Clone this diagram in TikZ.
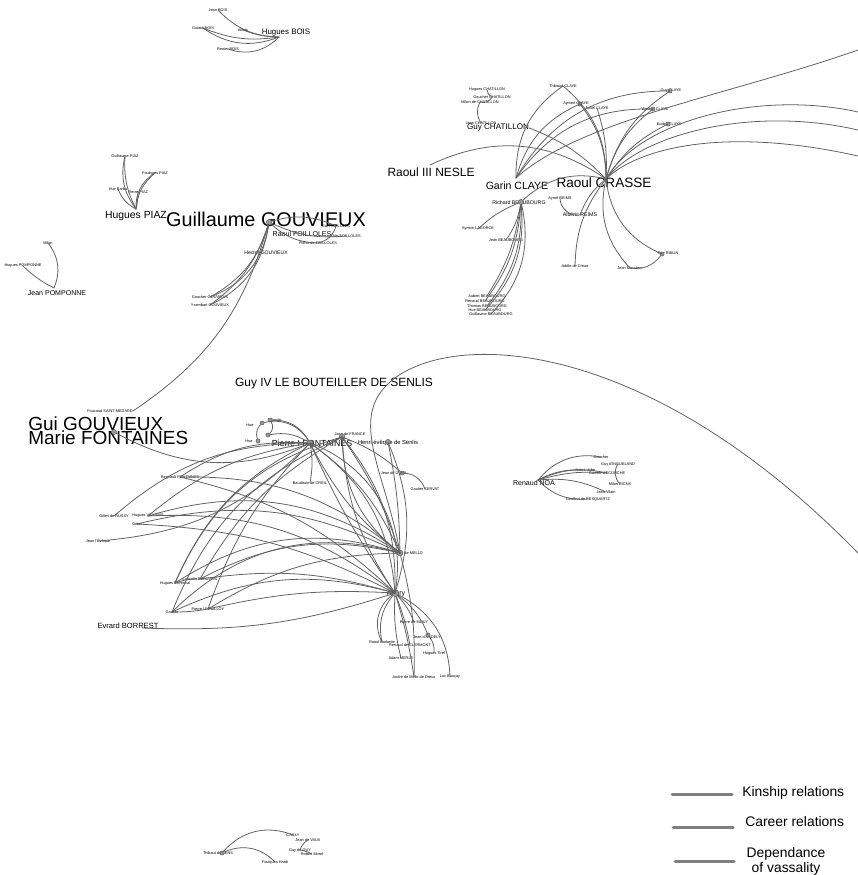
\documentclass[tikz,border=0pt]{standalone}
\usepackage{fontspec}
\setmainfont{Liberation Sans}
\begin{document}
\begin{tikzpicture}[
    x=0.02cm, y=-0.02cm,
    line cap=round, line join=round,
    edge/.style={draw=black!62, line width=0.45pt},
    hub/.style={circle, draw=black!70, fill=black!40, line width=0.2pt, inner sep=0pt, minimum size=#1},
    hub/.default=3pt,
    tiny/.style={font=\fontsize{2.2}{2.4}\selectfont, inner sep=0pt},
    lbl/.style={font=\fontsize{#1}{#1}\selectfont, inner sep=0pt},
    key/.style={draw=black!50, line width=1.7pt}
]

\useasboundingbox (0,0) rectangle (858,875);

% --- Hugues BOIS
\node[lbl=4.5pt] (hbois) at (286,33) {Hugues BOIS};
\coordinate (hboisH) at (279,37);
\node[tiny] (jbois) at (218,10) {Jean BOIS};
\node[tiny] (gbois) at (203,28) {Guiard BOIS};
\node[tiny] (alexis) at (243,30) {Alexis};
\node[tiny] (rbois) at (228,49) {Renier BOIS};
\foreach \n/\b in {jbois/22, gbois/28, gbois/15, alexis/10, rbois/32}
    \draw[edge] (\n.center) to[bend right=\b] (hboisH);

% --- Hugues PIAZ
\node[lbl=5.9pt] (hpiaz) at (136,216) {Hugues PIAZ};
\coordinate (hpiazH) at (136,209);
\node[tiny] (gpiaz) at (125,156) {Guillaume PIAZ};
\node[tiny] (fpiaz) at (155,173) {Foulques PIAZ};
\node[tiny] (huepiaz) at (118,189) {Hue Barbu};
\node[tiny] (ppiaz) at (138,192) {Pierre PIAZ};
\foreach \n/\b in {gpiaz/25, gpiaz/15, huepiaz/20, fpiaz/30, fpiaz/22, ppiaz/-5}
    \draw[edge] (\n.center) to[bend right=\b] (hpiazH);

% --- Jean POMPONNE
\node[lbl=4pt] (jpomp) at (57,293) {Jean POMPONNE};
\coordinate (jpompH) at (54,288);
\node[tiny] (milon) at (48,243) {Milon};
\node[tiny] (hpomp) at (23,266) {Hugues POMPONNE};
\draw[edge] (milon.center) to[bend left=30] (jpompH);
\draw[edge] (hpomp.center) to[bend right=8] (jpompH);

% --- Guillaume GOUVIEUX
\node[lbl=11.3pt] (ggouv) at (266,219) {Guillaume GOUVIEUX};
\node[hub] (ggouvH) at (269,222) {};
\node[lbl=4pt] (rfoil) at (302,234) {Raoul FOILLOLES};
\node[lbl=2.9pt] (hgouv) at (266,253) {Hector GOUVIEUX};
\node[tiny] (foilA) at (336,226) {Gui FOILLOLES};
\node[tiny] (foilB) at (346,236) {Odo FOILLOLES};
\node[tiny] (foilC) at (318,243) {Pierre de FOILLOLES};
\node[tiny] (gaucher) at (210,297) {Gaucher GOUVIEUX};
\node[tiny] (ysemb) at (210,305) {Ysembart GOUVIEUX};
\draw[edge] (ggouvH) to[bend left=20] (foilA.center);
\draw[edge] (ggouvH) to[bend right=15] (foilB.center);
\draw[edge] (ggouvH) to[bend right=20] (foilC.center);
\draw[edge] (foilA.center) to[bend left=30] (foilC.center);
\foreach \n/\b in {gaucher/30, gaucher/22, ysemb/28, ysemb/18}
    \draw[edge] (ggouvH) to[bend left=\b] (\n.center);

% --- Gui GOUVIEUX, Marie FONTAINES
\node[lbl=10.8pt, anchor=base west] (guigouv) at (28,430) {Gui GOUVIEUX};
\node[lbl=10.8pt, anchor=base west] (mfont) at (28,444) {Marie FONTAINES};
\node[tiny] (foucaud) at (110,411) {Foucaud SAINT-MEDARD};
\node[hub] (guiH) at (114,432) {};
\draw[edge] (ggouvH) to[bend left=20] (foucaud.east);

% --- Raoul CRASSE
\node[lbl=6.8pt] (nesle) at (431,172) {Raoul III NESLE};
\coordinate (nesleH) at (430,165);
\node[lbl=4.6pt] (chat) at (498,128) {Guy CHATILLON};
\node[lbl=6pt] (garin) at (517,186) {Garin CLAYE};
\node[lbl=7.7pt] (crasse) at (604,183) {Raoul CRASSE};
\coordinate (garinH) at (516,178);
\coordinate (crasseH) at (606,179);
\node[lbl=3pt] (richard) at (519,203) {Richard BEAUBOURG};
\node[hub] (richardH) at (521,202) {};
\node[lbl=3pt] (alberic) at (580,215) {Albéric REIMS};
\node[tiny] (aymeR) at (560,198) {Aymé REIMS};
\node[tiny] (thib) at (563,86) {Thibaud CLAYE};
\node[tiny] (aym) at (576,104) {Aymeri CLAYE};
\node[hub=2.4pt] (aymH) at (580,104) {};
\node[tiny] (ansel) at (597,108) {Ansel CLAYE};
\node[tiny] (guyc) at (671,91) {Guy CLAYE};
\node[hub=2.4pt] (guycH) at (670,91) {};
\node[tiny] (waut) at (655,109) {Wautier CLAYE};
\node[hub=2.4pt] (wautH) at (653,109) {};
\node[tiny] (eudes) at (669,124) {Eudes CLAYE};
\node[hub=2.4pt] (eudesH) at (668,124) {};
\node[tiny] (chA) at (487,90) {Hugues CHATILLON};
\node[tiny] (chB) at (492,97) {Gaucher CHATILLON};
\node[tiny] (chC) at (480,102) {Milon de CHATILLON};
\node[tiny] (chD) at (481,123) {Jean CHATILLON};
\node[tiny] (symon) at (478,229) {Symon LAGORCE};
\node[tiny] (jeanb) at (506,240) {Jean BEAUBOURG};
\node[tiny] (b1) at (487,296) {Aubert BEAUBOURG};
\node[tiny] (b2) at (485,301) {Renaud BEAUBOURG};
\node[tiny] (b3) at (487,306) {Thomas BEAUBOURG};
\node[tiny] (b4) at (485,310) {Hue BEAUBOURG};
\node[tiny] (b5) at (491,314) {Guillaume BEAUBOURG};
\node[tiny] (adele) at (575,266) {Adèle de Creue};
\node[tiny] (jeanr) at (630,268) {Jean Mauclerc};
\node[tiny] (guyr) at (668,254) {Guy RIBLIN};
\node[hub=2.4pt] (guyrH) at (662,254) {};
\coordinate (oA) at (858,50);
\coordinate (oC) at (858,112);
\coordinate (oD) at (858,130);
\coordinate (oE) at (858,156);

\draw[edge] (chA.center) to[bend right=30] (chB.center);
\draw[edge] (chB.center) to[bend left=40] (chC.center);
\draw[edge] (chC.center) to[bend right=30] (chD.center);
\foreach \n/\b in {thib/28, aymH/25, wautH/28, guycH/30}
    \draw[edge] (garinH) to[bend left=\b] (\n.center);
\foreach \n/\b in {thib/25, aymH/18, ansel/10, guycH/-20, wautH/-18, eudesH/-15}
    \draw[edge] (crasseH) to[bend right=\b] (\n.center);
\draw[edge] (garinH) .. controls (580,120) and (730,95) .. (oA);
\draw[edge] (crasseH) .. controls (640,120) and (760,90) .. (oC);
\draw[edge] (crasseH) .. controls (640,135) and (750,105) .. (oD);
\draw[edge] (crasseH) .. controls (635,150) and (720,125) .. (oE);
\draw[edge] (nesleH) to[bend left=30] (crasseH);
\draw[edge] (chat.east) to[bend left=12] (crasseH);
\draw[edge] (crasseH) to[bend right=28] (richardH);
\foreach \n/\b in {b1/12, b2/16, b3/20, b4/24, b5/28, jeanb/12, symon/-10}
    \draw[edge] (richardH) to[bend left=\b] (\n.center);
\foreach \n/\b in {adele/18, jeanr/28, guyrH/30, alberic/15}
    \draw[edge] (crasseH) to[bend right=\b] (\n.center);
\draw[edge] (guyrH) to[bend left=30] (jeanr.center);
\draw[edge] (aymeR.center) to[bend right=50] (alberic.center);

% --- Renaud NOA
\node[lbl=4pt] (renaud) at (534,483) {Renaud NOA};
\coordinate (renaudH) at (538,480);
\node[tiny] (gaucN) at (601,457) {Gaucher};
\node[tiny] (inguN) at (618,464) {Guy d'INGUELAND};
\node[tiny] (lobN) at (585,470) {Jean Lobbe};
\node[tiny] (ecouN) at (607,473) {Garnier d'ECOUCHE};
\node[tiny] (ricN) at (620,484) {Milon RICNS};
\node[tiny] (jeanN) at (606,492) {Jean Vilain};
\node[tiny] (geofN) at (588,499) {Geoffroi de RESQUARTZ};
\foreach \n/\b in {gaucN/30, lobN/15, ecouN/18, ecouN/10, jeanN/15, geofN/-25}
    \draw[edge] (renaudH) to[bend left=\b] (\n.center);
\draw[edge] (inguN.center) to[bend right=40] (ricN.center);

% --- Pierre I FONTAINES
\node[lbl=6.8pt] (guyIV) at (334,384) {Guy IV LE BOUTEILLER DE SENLIS};
\node[lbl=5pt] (pierre) at (312,443) {Pierre I FONTAINES};
\node[hub=3.4pt] (pierreH) at (310,443) {};
\node[tiny] (jfrance) at (350,434) {Jean de FRANCE};
\node[hub=3.4pt] (franceH) at (342,437) {};
\node[lbl=3.3pt] (henri) at (388,443) {Henri évêque de Senlis};
\node[hub] (henriH) at (388,442) {};
\node[tiny] (hue1) at (250,425) {Hue};
\node[tiny] (baudri) at (276,420) {Baudri};
\node[tiny] (hue2) at (249,441) {Hue};
\node[hub=2.4pt] (sA) at (262,423) {};
\node[hub=2.4pt] (sB) at (270,420) {};
\node[hub=2.4pt] (sC) at (268,435) {};
\node[hub=2.4pt] (sD) at (258,441) {};
\node[tiny] (dulf) at (394,473) {Jean de DUEIL};
\node[hub=2.4pt] (dulfH) at (402,473) {};
\node[tiny] (servat) at (425,489) {Gautier SERVAT};
\node[tiny] (dreux) at (408,553) {Dreux de MELLO};
\node[hub=3.4pt] (dreuxH) at (400,553) {};
\node[lbl=4pt] (aubry) at (396,594) {Aubry};
\node[hub=4pt] (aubryH) at (395,593) {};
\node[tiny] (reg) at (180,477) {Regnault FONTAINES};
\node[tiny] (baud) at (310,483) {Baudouin de CREIL};
\node[tiny] (gil) at (114,516) {Gilles de RUSSY};
\node[tiny] (hvill) at (148,516) {Hugues VILLIERS};
\node[tiny] (odon) at (137,524) {Odon};
\node[tiny] (jeanl) at (98,541) {Jean l'Évêque};
\node[tiny] (hmor) at (175,583) {Hugues Morenval};
\node[tiny] (lanc) at (200,579) {Lancelin BEAUVAIS};
\node[tiny] (gaut) at (172,612) {Gautier};
\node[tiny] (pierII) at (208,609) {Pierre I FOUILLOY};
\node[lbl=4.3pt] (evrard) at (128,626) {Evrard BORREST};
\coordinate (evrardH) at (142,628);
\node[tiny] (pB1) at (414,622) {Pierre de MOUY};
\node[tiny] (jB) at (427,637) {Jean d'ANDELY};
\node[hub=2.4pt] (jBH) at (428,635) {};
\node[tiny] (rB) at (382,642) {Raoul Barbette};
\node[tiny] (reB) at (410,645) {Renaud de CLERMONT};
\node[tiny] (huB) at (434,653) {Hugues Tirel};
\node[tiny] (adB) at (401,658) {Adam MERLE};
\node[tiny] (anB) at (414,677) {André de Mello de Dreux};
\node[tiny] (luB) at (450,677) {Luc Bauçay};
\coordinate (offR) at (858,553);

\draw[edge] (guiH) to[bend right=25] (pierreH);
\foreach \n/\b in {sA/35, sB/30, sC/20}
    \draw[edge] (pierreH) to[bend right=\b] (\n);
\draw[edge] (sA) to[bend right=30] (sD);
\draw[edge] (sB) to[bend left=40] (sC);
\foreach \a/\z/\b in {
    pierreH/dreuxH/15, pierreH/dreuxH/-12, pierreH/aubryH/25, pierreH/aubryH/-5,
    pierreH/aubryH/40, franceH/dreuxH/8, franceH/dreuxH/-25, franceH/aubryH/-15,
    franceH/aubryH/20, reg/dreuxH/20, reg/aubryH/15, hvill/dreuxH/25,
    hvill/aubryH/20, odon/dreuxH/20, odon/aubryH/12, hmor/pierreH/20,
    hmor/franceH/25, hmor/dreuxH/25, lanc/dreuxH/20, lanc/aubryH/12,
    lanc/franceH/15, gaut/franceH/22, gaut/dreuxH/30, gaut/aubryH/20,
    pierII/pierreH/12, pierII/dreuxH/15, pierII/aubryH/8, hmor/lanc/10,
    henriH/aubryH/20, henriH/dreuxH/5, franceH/dulfH/10, pierreH/baud/10,
    dulfH/servat/35, gaut/pierII/-5, evrardH/aubryH/-10
}
    \draw[edge] (\a.center) to[bend left=\b] (\z.center);
\foreach \n/\b in {reg/18, hvill/15, gil/20}
    \draw[edge] (pierreH) to[bend right=\b] (\n.center);
\draw[edge] (jeanl.center) to[bend right=20] (pierreH);
\draw[edge] (dreuxH) .. controls (385,470) and (345,415) .. (395,378)
    .. controls (460,330) and (650,340) .. (offR);
\foreach \n/\b in {rB/-25, rB/-40, pB1/10, jBH/15, reB/5, adB/-8, anB/4, luB/30}
    \draw[edge] (aubryH) to[bend left=\b] (\n.center);
\draw[edge] (jBH) to[bend left=20] (huB.center);
\draw[edge] (dreuxH) to[bend left=8] (anB.center);

% --- Thibaut (bottom)
\node[tiny] (thibS) at (218,853) {Thibaut de SENS};
\node[hub=2.4pt] (thibH) at (222,853) {};
\node[tiny] (cail) at (293,835) {CAILLY};
\node[tiny] (jeanV) at (308,840) {Jean de VAUX};
\node[tiny] (guyH) at (300,850) {Guy de GUY};
\node[tiny] (robH) at (312,854) {Robert Morel};
\node[tiny] (foul) at (275,862) {Foulques Hardi};
\draw[edge] (thibH) to[bend left=35] (cail.center);
\draw[edge] (thibH) to[bend left=35] (foul.center);
\draw[edge] (jeanV.center) to[bend right=20] (guyH.center);
\draw[edge] (guyH.center) to[bend left=10] (robH.center);

% --- legend
\coordinate (k1a) at (672,794); \coordinate (k1b) at (732,794);
\coordinate (k2a) at (673,827); \coordinate (k2b) at (733,827);
\coordinate (k3a) at (675,861); \coordinate (k3b) at (734,861);
\draw[key] (k1a) -- (k1b);
\draw[key] (k2a) -- (k2b);
\draw[key] (k3a) -- (k3b);
\node[lbl=7.9pt, anchor=west] (kin) at (742,793) {Kinship relations};
\node[lbl=7.9pt, anchor=west] (car) at (745,822) {Career relations};
\node[font=\fontsize{7.9}{8.6}\selectfont, inner sep=0pt, align=center] (dep) at (786,861) {Dependance\\of vassality};

\end{tikzpicture}
\end{document}
